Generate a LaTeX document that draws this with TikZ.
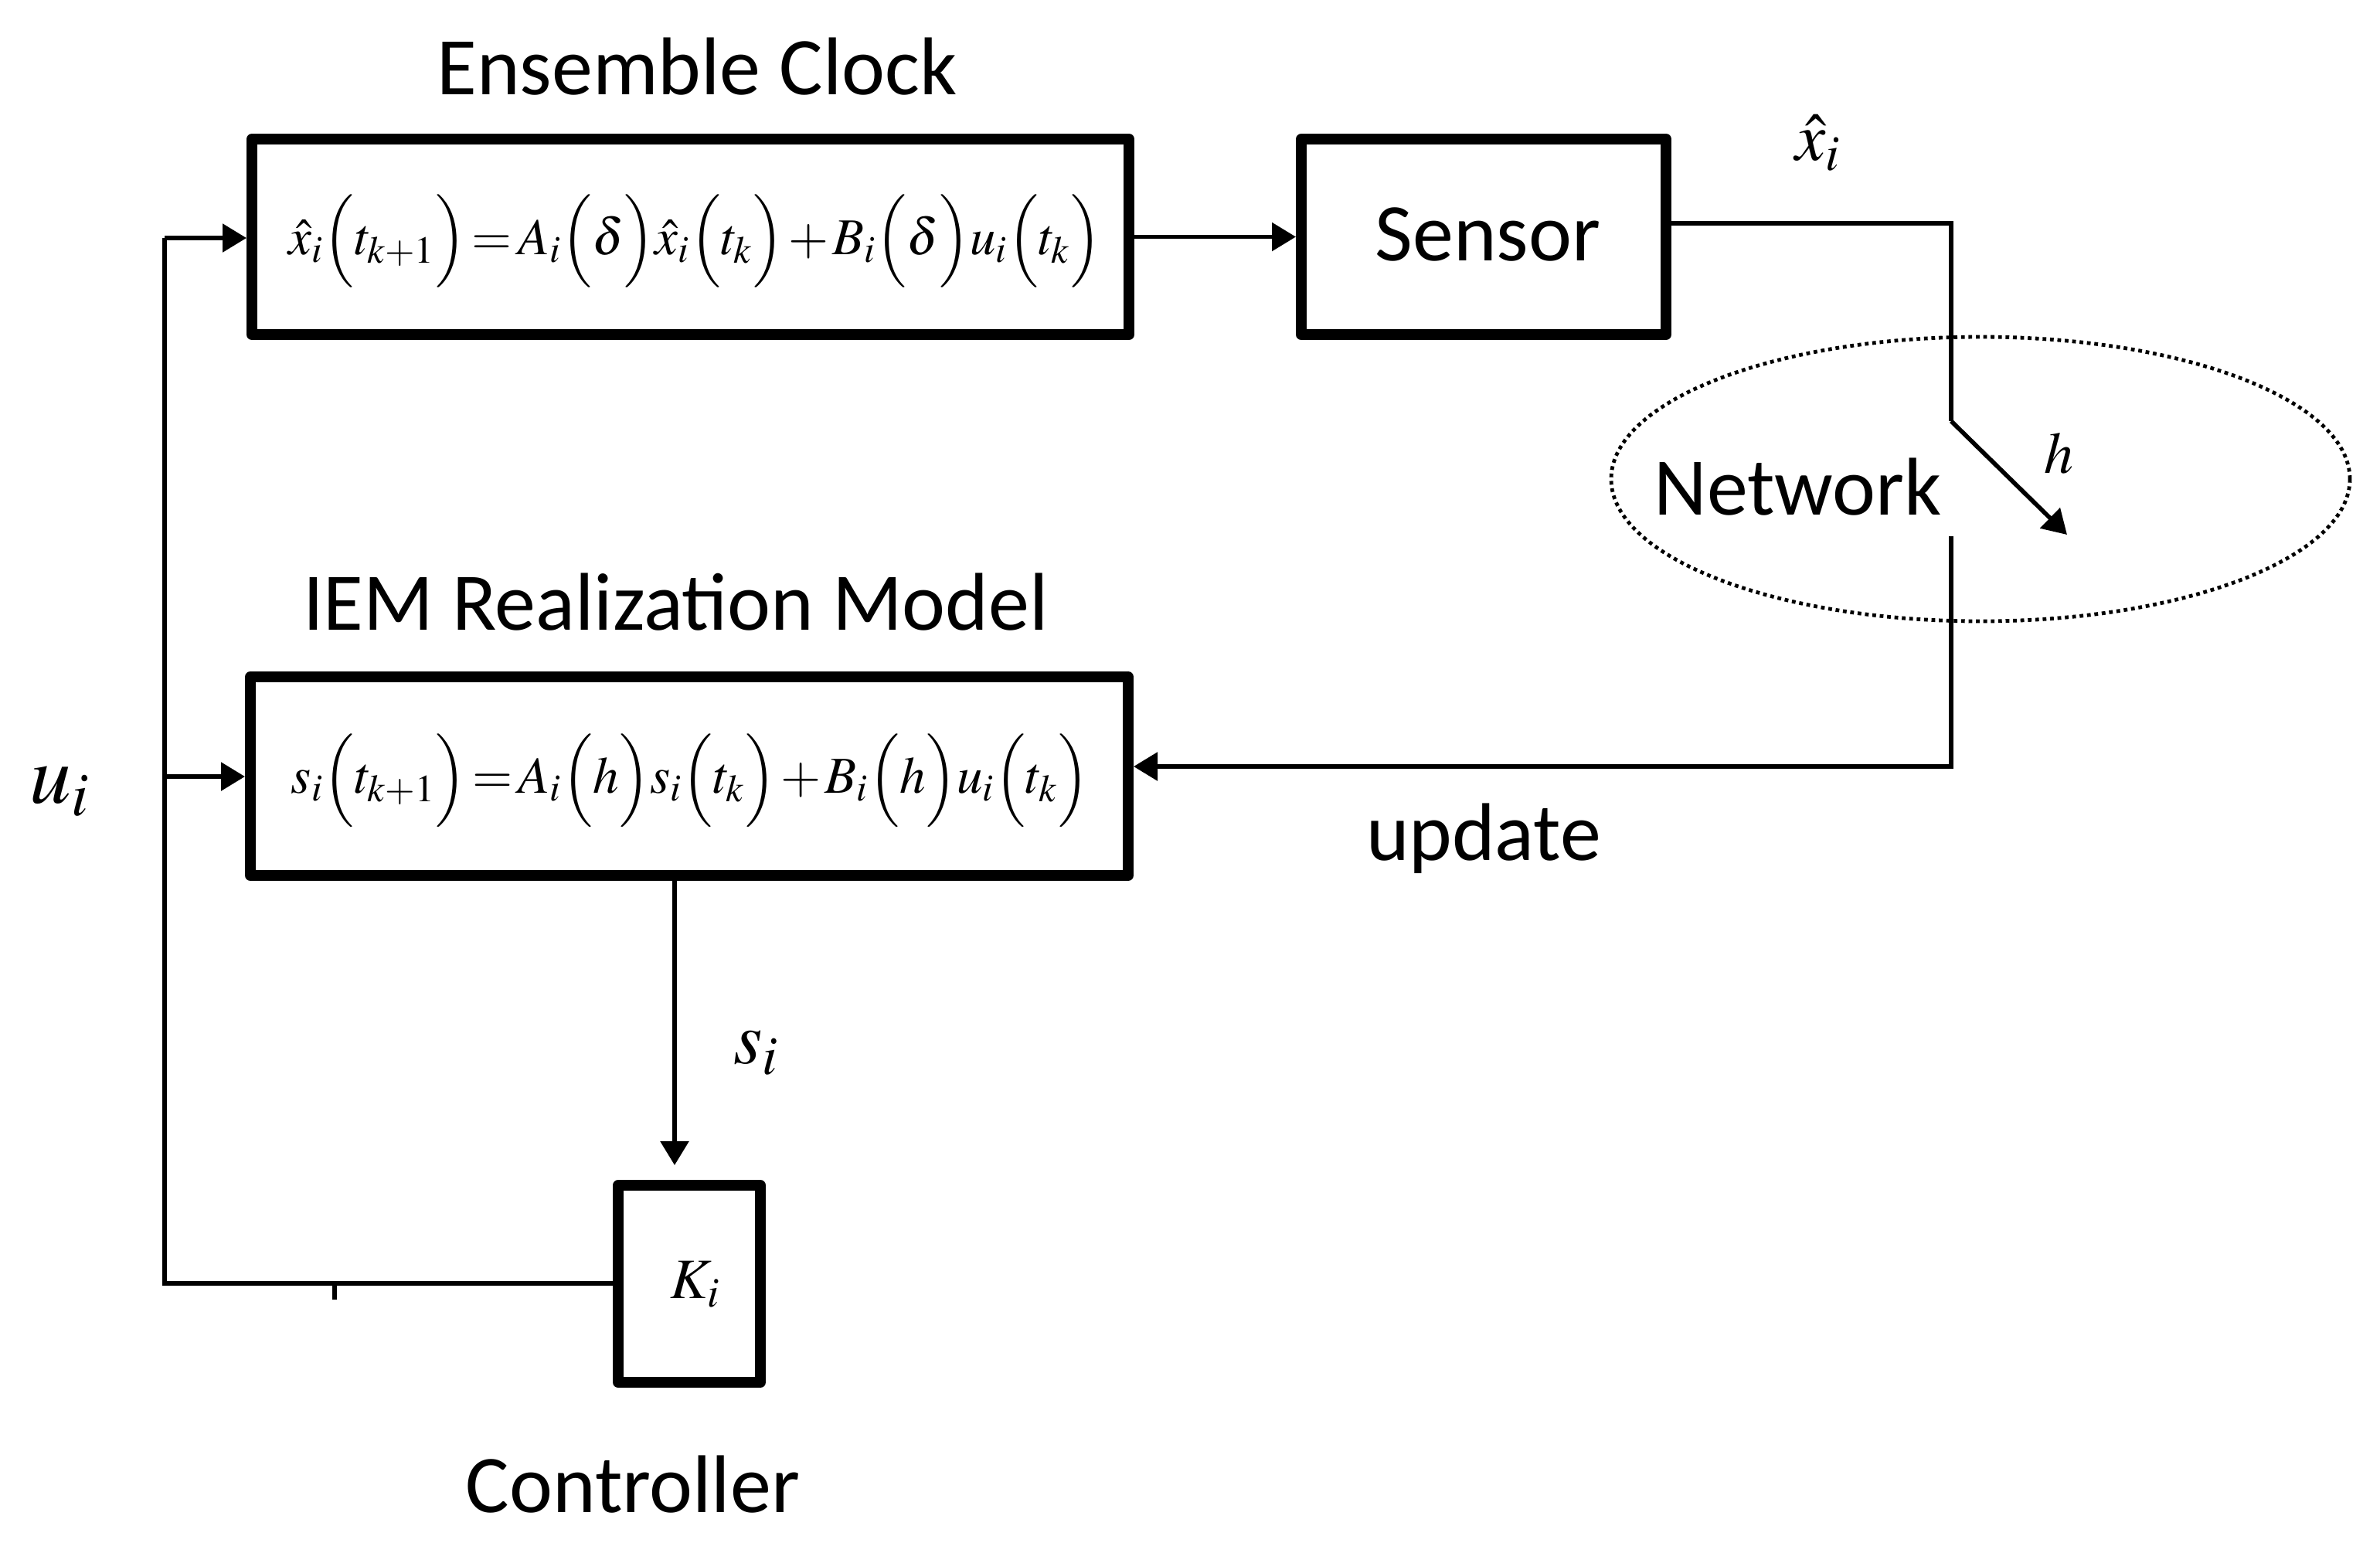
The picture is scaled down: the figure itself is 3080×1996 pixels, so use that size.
\documentclass[tikz,border=0pt]{standalone}
\usepackage[no-math]{fontspec}
\usepackage{mathptmx}
\usepackage{graphicx}
\setmainfont{Carlito}
\usetikzlibrary{arrows.meta,calc,shapes.geometric}
\newcommand{\tighteq}[1]{$\thickmuskip=2mu\medmuskip=1.5mu #1$}
\begin{document}
\begin{tikzpicture}[x=0.25pt,y=-0.25pt,
  blk/.style={draw,line width=3.5pt,line join=round,inner sep=0pt},
  conn/.style={line width=1.4pt},
  arr/.style={conn,-{Triangle[length=7.75pt,width=9pt]}},
  lbl/.style={font=\fontsize{26.5pt}{30pt}\selectfont,inner sep=0pt,anchor=base},
  eqf/.style={font=\fontsize{18.5pt}{22pt}\selectfont,inner sep=0pt},
  mlbl/.style={inner sep=0pt,anchor=base}
]
\useasboundingbox[fill=white] (0,0) rectangle (3080,1996);

% blocks
\node[blk,minimum width=283.75pt,minimum height=63.25pt] (ens) at (893.5,306.5) {};
\node[blk,minimum width=118pt,minimum height=63.25pt] (sen) at (1920,306.5) {};
\node[blk,minimum width=284pt,minimum height=64.25pt] (iem) at (892,1004.5) {};
\node[blk,minimum width=46pt,minimum height=63.75pt] (ctl) at (892,1661.5) {};
\node[draw,ellipse,line width=1.2pt,dash pattern=on 1.2pt off 1.2pt,
      minimum width=239pt,minimum height=92pt,inner sep=0pt] (net) at (2563,620) {};

% equations
\node[eqf] (eqE) at (899.5,312.5)
  {\resizebox{263pt}{!}{\tighteq{\hat{x}_i\Bigl(t_{k+1}\Bigr)=A_i\Bigl(\delta\Bigr)\hat{x}_i\Bigl(t_k\Bigr)+B_i\Bigl(\delta\Bigr)u_i\Bigl(t_k\Bigr)}}};
\node[eqf] (eqI) at (893,1010)
  {\resizebox{258pt}{!}{\tighteq{s_i\Bigl(t_{k+1}\Bigr)=A_i\Bigl(h\Bigr)s_i\Bigl(t_k\Bigr)+B_i\Bigl(h\Bigr)u_i\Bigl(t_k\Bigr)}}};

% text labels
\node[lbl] (tEns) at (902,122) {Ensemble Clock};
\node[lbl] (tIem) at (874.5,815) {IEM Realization Model};
\node[lbl] (tSen) at (1925.5,337) {Sensor};
\node[lbl] (tNet) at (2326.5,666) {Network};
\node[lbl] (tCtl) at (819,1957) {Controller};
\node[lbl] (tUpd) at (1920,1113) {update};

% math labels
\node[mlbl,font=\fontsize{22pt}{26pt}\selectfont] (lx) at (2353,207) {$\hat{x}_i$};
\node[mlbl,font=\fontsize{27pt}{30pt}\selectfont] (lu) at (78,1039) {$u_i$};
\node[mlbl,font=\fontsize{24pt}{28pt}\selectfont] (ls) at (979,1376) {$s_i$};
\node[mlbl,font=\fontsize{19pt}{22pt}\selectfont] (lh) at (2664,612) {$h$};
\node[mlbl,font=\fontsize{18.5pt}{22pt}\selectfont] (lk) at (900,1680) {$K_i$};

% coordinates
\coordinate (s1) at (2525,289);
\coordinate (s2) at (2525,545);
\coordinate (s3) at (2675,692);
\coordinate (n1) at (2525,694);
\coordinate (n2) at (2525,992);
\coordinate (d1) at (873,1508);
\coordinate (c1) at (213,1661);
\coordinate (c2) at (213,308);
\coordinate (c3) at (213,1005);
\coordinate (k1) at (433,1661);
\coordinate (k2) at (433,1682);

% connectors
\draw[arr] (ens.east) -- (sen.west);
\draw[conn] (sen.east |- s1) -- (s1) -- (s2);
\draw[arr] (s2) -- (s3);
\draw[arr] (n1) -- (n2) -- (iem.east |- n2);
\draw[arr] (iem.south -| d1) -- (d1);
\draw[conn] (ctl.west |- c1) -- (c1) -- (c2);
\draw[arr] (c2) -- (ens.west |- c2);
\draw[arr] (c3) -- (iem.west |- c3);
\draw[conn] (k1) -- (k2);
\end{tikzpicture}
\end{document}
